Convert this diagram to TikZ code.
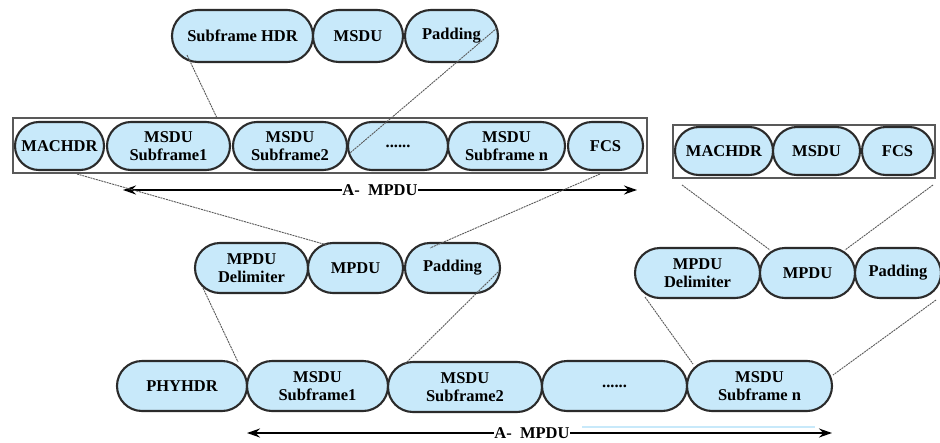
\documentclass[tikz,border=0pt]{standalone}
\usepackage{fontspec}
\setmainfont{Liberation Serif}
\usetikzlibrary{shapes.misc,arrows.meta}
\definecolor{pillblue}{HTML}{C8E9FA}
\definecolor{edgegray}{HTML}{2B2B2B}
\begin{document}
\begin{tikzpicture}[x=1pt,y=-1pt,
  pill/.style={rounded rectangle, draw=edgegray, line width=2.1pt, fill=pillblue,
    inner sep=0pt, align=center, font=\bfseries\fontsize{16.5}{18.5}\selectfont},
  frame/.style={draw=black!65, line width=1.8pt, fill=white},
  link/.style={draw=black!65, line width=0.9pt, dash pattern=on 2pt off 0.8pt},
  span/.style={draw=black, line width=1.7pt,
    {Stealth[length=13pt,width=9pt]}-{Stealth[length=13pt,width=9pt]}},
  spanlabel/.style={fill=white, inner xsep=0.5pt, inner ysep=1pt,
    font=\bfseries\fontsize{16.5}{18.5}\selectfont}]

\fill[white] (0,0) rectangle (940,442);
\useasboundingbox (0,0) rectangle (940,442);

% ---- MSDU subframe (top) ----
\node[pill, minimum width=141pt, minimum height=52pt] (shdr)  at (242.5,36) {Subframe HDR};
\node[pill, minimum width=90pt,  minimum height=52pt] (tmsdu) at (358,36)   {MSDU};
\node[pill, minimum width=93pt,  minimum height=52pt] (tpad)  at (451.5,36) {Padding};

% ---- A-MSDU inside an MPDU ----
\draw[frame] (13,118) rectangle (647,173);
\node[pill, minimum width=89pt,  minimum height=48pt] (amac) at (59.5,146)  {MACHDR};
\node[pill, minimum width=123pt, minimum height=48pt] (asf1) at (168.5,146) {MSDU\\Subframe1};
\node[pill, minimum width=114pt, minimum height=48pt] (asf2) at (290,146)   {MSDU\\Subframe2};
\node[pill, minimum width=100pt, minimum height=48pt] (adot) at (398,146)   {......};
\node[pill, minimum width=117pt, minimum height=48pt] (asfn) at (506.5,146) {MSDU\\Subframe n};
\node[pill, minimum width=75pt,  minimum height=48pt] (afcs) at (605.5,146) {FCS};

% ---- plain MPDU ----
\draw[frame] (673,125) rectangle (935,178);
\node[pill, minimum width=98pt, minimum height=48pt] (pmac)  at (724,151)   {MACHDR};
\node[pill, minimum width=87pt, minimum height=48pt] (pmsdu) at (816.5,151) {MSDU};
\node[pill, minimum width=71pt, minimum height=48pt] (pfcs)  at (897.5,151) {FCS};

% ---- A-MPDU subframes ----
\node[pill, minimum width=113pt, minimum height=50pt] (ldel) at (251.5,268) {MPDU\\Delimiter};
\node[pill, minimum width=95pt,  minimum height=50pt] (lmp)  at (355.5,268) {MPDU};
\node[pill, minimum width=95pt,  minimum height=50pt] (lpad) at (452.5,268) {Padding};

\node[pill, minimum width=125pt, minimum height=50pt] (rdel) at (697.5,273) {MPDU\\Delimiter};
\node[pill, minimum width=95pt,  minimum height=50pt] (rmp)  at (807.5,273) {MPDU};
\node[pill, minimum width=86pt,  minimum height=50pt] (rpad) at (898,273)   {Padding};

% ---- PHY frame ----
\node[pill, minimum width=130pt, minimum height=50pt] (phy)  at (182,386)   {PHYHDR};
\node[pill, minimum width=141pt, minimum height=50pt] (bsf1) at (317.5,386) {MSDU\\Subframe1};
\node[pill, minimum width=154pt, minimum height=50pt] (bsf2) at (465,387)   {MSDU\\Subframe2};
\node[pill, minimum width=145pt, minimum height=50pt] (bdot) at (614.5,386) {......};
\node[pill, minimum width=145pt, minimum height=50pt] (bsfn) at (759.5,386) {MSDU\\Subframe n};

% ---- span arrows ----
\coordinate (ms) at (123,190);
\coordinate (me) at (637,190);
\draw[span] (ms) -- (me);
\node[spanlabel] (mlab) at (380,190) {A-\ \ MPDU};

\coordinate (bs) at (247,433);
\coordinate (be) at (832,433);
\coordinate (gs) at (582,427);
\coordinate (ge) at (815,427);
\draw[pillblue, line width=1.2pt] (gs) -- (ge);
\draw[span] (bs) -- (be);
\node[spanlabel] (blab) at (532,433) {A-\ \ MPDU};

% ---- expansion lines ----
\coordinate (e1a) at (187,55);  \coordinate (e1b) at (217,118);
\coordinate (e2a) at (497,28);  \coordinate (e2b) at (350,153);
\coordinate (e3a) at (77,174);  \coordinate (e3b) at (327,245);
\coordinate (e4a) at (600,174); \coordinate (e4b) at (430,248);
\coordinate (e5a) at (682,185); \coordinate (e5b) at (770,250);
\coordinate (e6a) at (933,185); \coordinate (e6b) at (845,250);
\coordinate (e7a) at (203,288); \coordinate (e7b) at (238,362);
\coordinate (e8a) at (498,272); \coordinate (e8b) at (405,364);
\coordinate (e9a) at (645,297); \coordinate (e9b) at (693,364);
\coordinate (e10a) at (936,300); \coordinate (e10b) at (833,375);
\foreach \i in {1,...,10} \draw[link] (e\i a) -- (e\i b);

\end{tikzpicture}
\end{document}
